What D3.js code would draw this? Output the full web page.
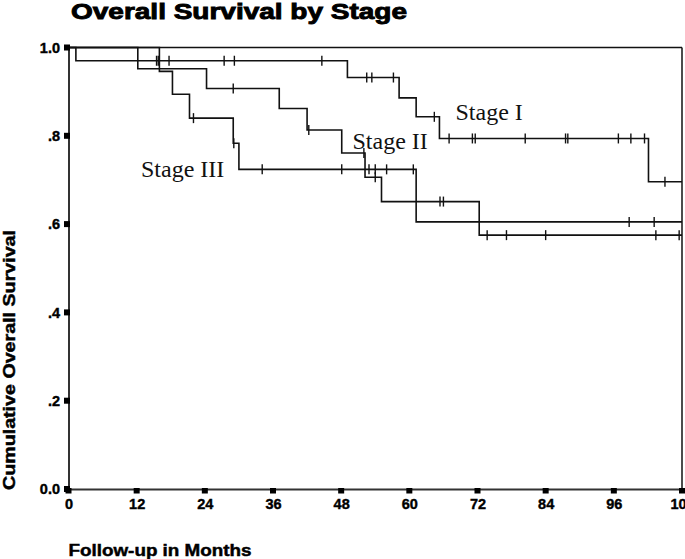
<!DOCTYPE html>
<html>
<head>
<meta charset="utf-8">
<script src="https://cdn.jsdelivr.net/npm/d3@7"></script>
<style>
  html, body { margin: 0; padding: 0; background: #fff; }
  svg { display: block; }
</style>
</head>
<body>
<svg id="chart" width="685" height="559"></svg>
<script>
// ---- data ----
const xTickValues = [0, 12, 24, 36, 48, 60, 72, 84, 96, 108];
const yTickValues = [0, 0.2, 0.4, 0.6, 0.8, 1.0];
const yTickLabels = ["0.0", ".2", ".4", ".6", ".8", "1.0"];

// [month of drop, survival after drop]
const stageIDrops = [[1.3, 0.970], [49.1, 0.932], [58.2, 0.886], [61.2, 0.843], [65.3, 0.794], [102.1, 0.696]];
const stageICensor = [15.5, 15.8, 17.7, 27.4, 29.2, 44.6, 52.5, 53.4, 57.2, 64.4, 67.0, 71.1, 71.6, 80.4, 87.5, 87.9, 96.8, 99.0, 101.4, 105.0];

const stageIIDrops = [[12.2, 0.952], [24.3, 0.907], [37.1, 0.862], [42.0, 0.813], [48.1, 0.761], [52.2, 0.706], [55.1, 0.651], [72.3, 0.575]];
const stageIICensor = [29.0, 42.3, 52.0, 54.0, 65.4, 66.0, 73.7, 77.1, 84.0, 103.4, 107.5];

const stageIIIDrops = [[16.0, 0.946], [18.3, 0.894], [21.3, 0.840], [29.0, 0.783], [30.0, 0.724], [61.2, 0.605]];
const stageIIICensor = [22.0, 29.1, 34.1, 48.1, 52.9, 54.0, 56.0, 60.7, 98.7, 103.1];

const seriesNames = ["Stage I", "Stage II", "Stage III"];
const maxMonth = 108;

// ---- layout ----
const svg = d3.select("#chart");
const x = d3.scaleLinear().domain([0, maxMonth]).range([68.5, 682]);
const y = d3.scaleLinear().domain([0, 1]).range([489, 47.5]);

const series = [
  { name: seriesNames[0], drops: stageIDrops, censor: stageICensor, label: [455.5, 120] },
  { name: seriesNames[1], drops: stageIIDrops, censor: stageIICensor, label: [352.5, 148.5] },
  { name: seriesNames[2], drops: stageIIIDrops, censor: stageIIICensor, label: [141, 177] }
];

function survAt(drops, t) {
  let s = 1;
  for (const d of drops) { if (d[0] <= t) s = d[1]; }
  return s;
}

// title
svg.append("text")
  .attr("x", 71).attr("y", 18.5)
  .attr("font-family", "'Liberation Sans', Arial, sans-serif")
  .attr("font-weight", "bold")
  .attr("font-size", 22)
  .attr("stroke", "#000").attr("stroke-width", 0.9)
  .attr("textLength", 336).attr("lengthAdjust", "spacingAndGlyphs")
  .text("Overall Survival by Stage");

// frame (top & right)
svg.append("line").attr("x1", x(0)).attr("x2", x(maxMonth)).attr("y1", y(1)).attr("y2", y(1))
  .attr("stroke", "#111").attr("stroke-width", 1.5);
svg.append("line").attr("x1", x(maxMonth)).attr("x2", x(maxMonth)).attr("y1", y(1)).attr("y2", y(0))
  .attr("stroke", "#111").attr("stroke-width", 1.5);

// curves
const line = d3.line().x(d => x(d[0])).y(d => y(d[1])).curve(d3.curveStepAfter);
series.forEach(s => {
  const pts = [[0, 1]].concat(s.drops).concat([[maxMonth, s.drops[s.drops.length - 1][1]]]);
  svg.append("path").attr("d", line(pts))
    .attr("fill", "none").attr("stroke", "#111").attr("stroke-width", 1.6);
  svg.append("g").selectAll("line").data(s.censor).join("line")
    .attr("x1", d => x(d)).attr("x2", d => x(d))
    .attr("y1", d => y(survAt(s.drops, d)) - 5)
    .attr("y2", d => y(survAt(s.drops, d)) + 5)
    .attr("stroke", "#111").attr("stroke-width", 1.4);
  svg.append("text")
    .attr("x", s.label[0]).attr("y", s.label[1])
    .attr("font-family", "'Liberation Serif', 'Times New Roman', serif")
    .attr("font-size", 24).attr("fill", "#111")
    .text(s.name);
});

// y axis
const yAxis = d3.axisLeft(y).tickValues(yTickValues)
  .tickFormat((d, i) => yTickLabels[i]).tickSize(0).tickPadding(9);
const gy = svg.append("g").attr("transform", "translate(69,0)").call(yAxis);
gy.select(".domain").remove();
gy.selectAll("text")
  .attr("font-family", "'Liberation Sans', Arial, sans-serif")
  .attr("font-weight", "bold").attr("font-size", 14.5).attr("fill", "#000")
  .attr("stroke", "#000").attr("stroke-width", 0.4);
svg.append("line").attr("x1", 69).attr("x2", 69).attr("y1", y(1)).attr("y2", y(0) + 1)
  .attr("stroke", "#333").attr("stroke-width", 2);
svg.append("g").selectAll("rect").data(yTickValues).join("rect")
  .attr("x", 64).attr("y", d => y(d) - 3).attr("width", 6).attr("height", 6).attr("fill", "#000");

// x axis
const xAxis = d3.axisBottom(x).tickValues(xTickValues).tickSize(0).tickPadding(9.5);
const gx = svg.append("g").attr("transform", "translate(0,489)").call(xAxis);
gx.select(".domain").remove();
gx.selectAll("text")
  .attr("font-family", "'Liberation Sans', Arial, sans-serif")
  .attr("font-weight", "bold").attr("font-size", 14.5).attr("fill", "#000")
  .attr("stroke", "#000").attr("stroke-width", 0.4);
svg.append("line").attr("x1", 68).attr("x2", x(maxMonth)).attr("y1", 489.5).attr("y2", 489.5)
  .attr("stroke", "#333").attr("stroke-width", 2);
svg.append("g").selectAll("rect").data(xTickValues).join("rect")
  .attr("x", d => x(d) - 3).attr("y", 488).attr("width", 6).attr("height", 5.5).attr("fill", "#000");

// axis titles
svg.append("text")
  .attr("x", 68.5).attr("y", 555.5)
  .attr("font-family", "'Liberation Sans', Arial, sans-serif")
  .attr("font-weight", "bold").attr("font-size", 16)
  .attr("stroke", "#000").attr("stroke-width", 0.45)
  .attr("textLength", 183).attr("lengthAdjust", "spacingAndGlyphs")
  .text("Follow-up in Months");

svg.append("text")
  .attr("transform", "translate(14.5,360) rotate(-90)")
  .attr("text-anchor", "middle")
  .attr("font-family", "'Liberation Sans', Arial, sans-serif")
  .attr("font-weight", "bold").attr("font-size", 16)
  .attr("stroke", "#000").attr("stroke-width", 0.45)
  .attr("textLength", 260).attr("lengthAdjust", "spacingAndGlyphs")
  .text("Cumulative Overall Survival");
</script>
</body>
</html>
